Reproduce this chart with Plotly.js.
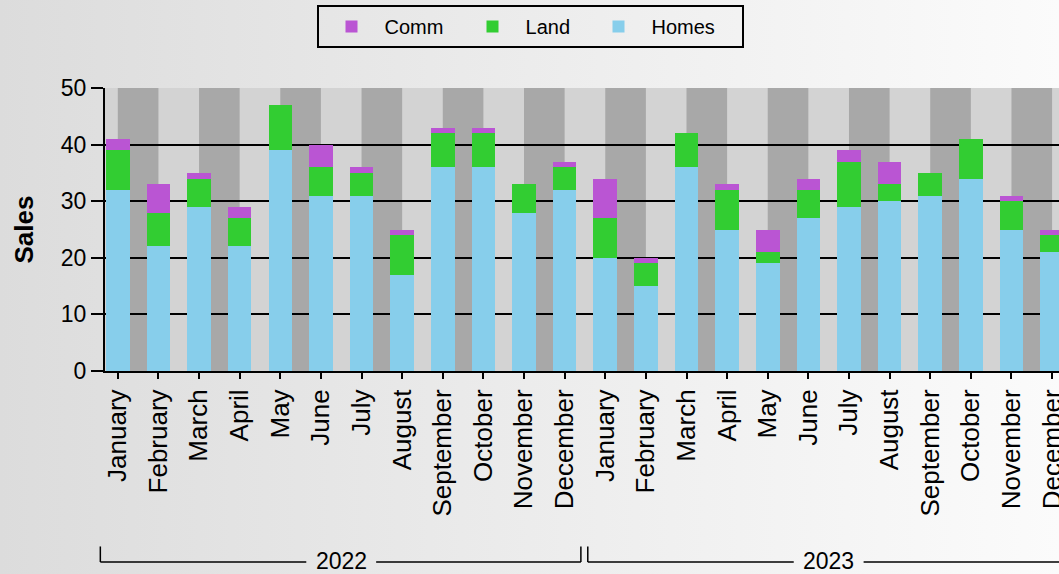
<!DOCTYPE html>
<html>
<head>
<meta charset="utf-8">
<script src="https://cdn.plot.ly/plotly-3.0.1.min.js"></script>
<style>
html, body { margin: 0; padding: 0; width: 1059px; height: 574px; overflow: hidden;
  background: linear-gradient(to right, #dcdcdc 0%, #ececec 50%, #fbfbfb 100%); }
#chart { width: 1059px; height: 574px; }
</style>
</head>
<body>
<div id="chart"></div>
<script>
// ---- data ----
const years = ['2022', '2023'];
const months = ['January','February','March','April','May','June','July','August','September','October','November','December'];
const homes = [32, 22, 29, 22, 39, 31, 31, 17, 36, 36, 28, 32,
               20, 15, 36, 25, 19, 27, 29, 30, 31, 34, 25, 21];
const land  = [ 7,  6,  5,  5,  8,  5,  4,  7,  6,  6,  5,  4,
                7,  4,  6,  7,  2,  5,  8,  3,  4,  7,  5,  3];
const comm  = [ 2,  5,  1,  2,  0,  4,  1,  1,  1,  1,  0,  1,
                7,  1,  0,  1,  4,  2,  2,  4,  0,  0,  1,  1];

// ---- derived ----
const labels = [];
years.forEach(() => months.forEach(m => labels.push(m)));
const idx = labels.map((_, i) => i);

const FONT = 'Liberation Sans, Arial, Helvetica, sans-serif';
const barW = 0.58;
const xr = [-0.315, 23.17];
const toPaper = v => (v - xr[0]) / (xr[1] - xr[0]);

const series = [
  {name: 'Homes', y: homes, color: '#87CEEB', lw: 85},
  {name: 'Land', y: land, color: '#32CD32', lw: 55},
  {name: 'Comm', y: comm, color: '#BA55D3', lw: 70}
];
const traces = series.map(t => ({
  type: 'bar', x: idx, y: t.y, name: t.name, width: barW,
  marker: {color: t.color, line: {width: 0}},
  legendwidth: t.lw,
  hoverinfo: 'name+y'
}));

const shapes = [];
// alternating background stripes
for (let i = 0; i < idx.length; i += 2) {
  shapes.push({type: 'rect', xref: 'x', yref: 'paper', x0: i, x1: i + 1, y0: 0, y1: 1,
    fillcolor: '#a8a8a8', line: {width: 0}, layer: 'below'});
}
// year brackets
const annotations = [];
const yLine = -0.675, yTop = -0.62, gap = 0.86;
years.forEach((yr, k) => {
  const start = k * months.length - 0.43;
  const end = k * months.length + months.length - 0.6;
  const mid = k * months.length + (months.length - 1) / 2;
  const ln = {color: '#000', width: 1.5};
  const seg = (a, b, y0, y1) => shapes.push({type: 'line', xref: 'paper', yref: 'paper',
    x0: toPaper(a), x1: toPaper(b), y0: y0, y1: y1, line: ln});
  seg(start, start, yTop, yLine);
  seg(start, mid - gap, yLine, yLine);
  seg(mid + gap, end, yLine, yLine);
  seg(end, end, yTop, yLine);
  annotations.push({xref: 'x', yref: 'paper', x: mid, y: yLine + 0.004, text: yr, showarrow: false,
    xanchor: 'center', yanchor: 'middle', font: {family: FONT, size: 23, color: '#000'}});
});

const layout = {
  width: 1059, height: 574,
  margin: {l: 105, r: 0, t: 88, b: 203, pad: 0},
  paper_bgcolor: 'rgba(0,0,0,0)',
  plot_bgcolor: '#d3d3d3',
  barmode: 'stack',
  bargap: 0,
  font: {family: FONT, color: '#000'},
  showlegend: true,
  legend: {
    orientation: 'h', traceorder: 'reversed',
    x: 0.4455, xanchor: 'center', y: 1.293, yanchor: 'top',
    bgcolor: 'rgba(0,0,0,0)', bordercolor: '#000', borderwidth: 2,
    font: {family: FONT, size: 20, color: '#000'},
    itemwidth: 56
  },
  xaxis: {
    range: xr,
    tickmode: 'array', tickvals: idx, ticktext: labels,
    tickangle: -90,
    ticks: 'outside', ticklen: 6, tickwidth: 2, tickcolor: '#000',
    tickfont: {family: FONT, size: 26, color: '#000'},
    ticklabeloverflow: 'allow',
    showline: true, linecolor: '#000', linewidth: 2,
    showgrid: false, zeroline: false, fixedrange: true
  },
  yaxis: {
    range: [0, 50], dtick: 10, tick0: 0,
    ticks: 'outside', ticklen: 12, tickwidth: 2, tickcolor: '#000',
    tickfont: {family: FONT, size: 23, color: '#000'},
    showline: true, linecolor: '#000', linewidth: 2,
    showgrid: true, gridcolor: '#000', gridwidth: 2,
    zeroline: false, fixedrange: true,
    title: {text: '<b>Sales</b>', font: {family: FONT, size: 26, color: '#000'}, standoff: 20}
  },
  shapes: shapes,
  annotations: annotations
};

Plotly.newPlot('chart', traces, layout, {displayModeBar: false, staticPlot: true});
</script>
</body>
</html>
